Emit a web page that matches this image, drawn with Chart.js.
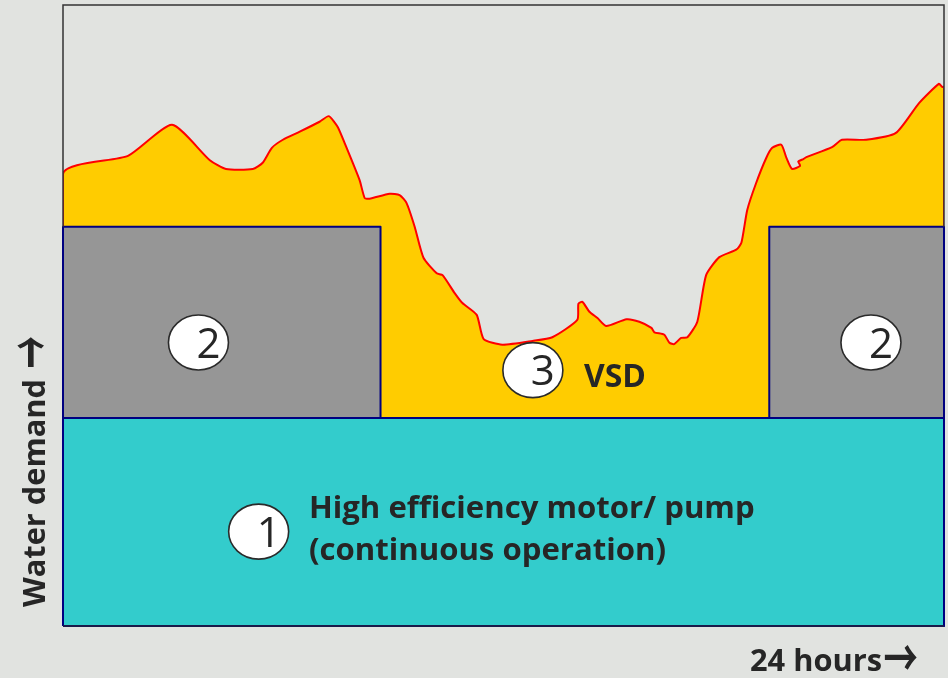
<!DOCTYPE html>
<html>
<head>
<meta charset="utf-8">
<script src="https://cdn.jsdelivr.net/npm/chart.js@4"></script>
<style>
  html, body { margin: 0; padding: 0; background: #e1e3e0; }
  canvas { display: block; }
</style>
</head>
<body>
<canvas id="c" width="948" height="678"></canvas>
<script>
// ---- data (hours 0..24, demand in arbitrary units 0..100) ----
const curveHours = [0, 0, 1.77, 2.97, 4.0, 4.44, 5.17, 5.44, 5.69, 5.99, 6.45, 6.99, 7.24, 7.48, 7.67, 8.08, 8.22, 8.35, 8.9, 9.17, 9.36, 9.58, 9.82, 10.18, 10.34, 10.67, 10.88, 11.27, 11.46, 11.97, 12.79, 13.33, 14.01, 14.04, 14.15, 14.34, 14.56, 14.8, 15.35, 15.7, 16.03, 16.11, 16.38, 16.52, 16.65, 16.84, 17.01, 17.28, 17.52, 17.88, 18.34, 18.48, 18.64, 18.88, 19.16, 19.32, 19.57, 19.7, 19.86, 20.08, 20.03, 20.17, 20.25, 20.95, 21.22, 21.88, 22.69, 23.32, 23.86, 23.95, 24, 24];
const curveDemand = [0, 72.8, 75.7, 80.7, 75.0, 73.6, 73.6, 74.6, 77.0, 78.3, 79.6, 81.2, 82.1, 80.4, 77.8, 71.8, 68.9, 68.8, 69.6, 69.4, 68.1, 64.3, 59.3, 56.8, 56.5, 53.6, 52.0, 50.1, 46.2, 45.3, 45.9, 46.5, 49.3, 51.9, 52.2, 50.6, 49.6, 48.3, 49.4, 49.0, 48.0, 47.3, 46.9, 45.6, 45.4, 46.4, 46.5, 49.0, 56.5, 59.4, 60.6, 61.7, 67.0, 71.3, 75.4, 77.0, 77.5, 75.5, 73.6, 74.1, 74.8, 75.2, 75.5, 77.1, 78.3, 78.3, 79.4, 84.2, 87.3, 86.8, 86.8, 0];
const baseLoadLevel = 33.5;          // 1: continuous high-efficiency pump
const stagedLevel = 64.3;            // 2: staged pumps
const stagedPeriods = [[0, 8.65], [19.24, 24]];   // hours when staged pumps run
const badgeLabels = ["1", "2", "2", "3"];
const mainLabelLines = ["High efficiency motor/ pump", "(continuous operation)"];
const vsdLabel = "VSD";
const yTitle = "Water demand";
const xTitle = "24 hours";
const arrowGlyph = "\u2192";

// ---- build datasets ----
const toPts = (xs, ys) => xs.map((x, i) => ({ x: x, y: ys[i] }));
const basePts = [{x:0,y:0},{x:0,y:baseLoadLevel},{x:24,y:baseLoadLevel},{x:24,y:0}];
const stagedSets = stagedPeriods.map(p => [{x:p[0],y:0},{x:p[0],y:stagedLevel},{x:p[1],y:stagedLevel},{x:p[1],y:0}]);

const NAVY = '#000080';
const TXT = '#262626';

const datasets = [
  { data: basePts, borderColor: NAVY, borderWidth: 2, backgroundColor: '#33cccc', fill: 'origin', clip: false },
  { data: stagedSets[0], borderColor: NAVY, borderWidth: 2, backgroundColor: '#969696', fill: 'origin', clip: false },
  { data: stagedSets[1], borderColor: NAVY, borderWidth: 2, backgroundColor: '#969696', fill: 'origin', clip: false },
  { data: toPts(curveHours, curveDemand), borderColor: '#ff0000', borderWidth: 2, backgroundColor: '#ffcc00', fill: 'origin', tension: 0.2 }
];

// annotation placements (in data units)
const badgeSpots = [ {x:5.33, y:15.2}, {x:3.69, y:45.65}, {x:22.01, y:45.65}, {x:12.8, y:41.2} ];
const mainLabelSpot = {x:6.70, y:17.4, y2:10.6};
const vsdSpot = {x:14.19, y:38.5};

function fitSize(ctx, text, weight, family, targetW) {
  ctx.font = weight + ' 100px ' + family;
  return 100 * targetW / ctx.measureText(text).width;
}

// draw the arrow glyph so its ink box fills (x0..x0+w, yBottom-h..yBottom)
function drawArrow(ctx, x0, yBottom, w, h) {
  ctx.save();
  ctx.font = '700 100px "Noto Sans CJK SC", "DejaVu Sans", sans-serif';
  const m = ctx.measureText(arrowGlyph);
  const inkW = m.actualBoundingBoxLeft + m.actualBoundingBoxRight;
  const inkH = m.actualBoundingBoxAscent + m.actualBoundingBoxDescent;
  const sx = w / inkW, sy = h / inkH;
  ctx.translate(x0, yBottom);
  ctx.scale(sx, sy);
  ctx.textAlign = 'left';
  ctx.textBaseline = 'alphabetic';
  ctx.fillText(arrowGlyph, m.actualBoundingBoxLeft, -m.actualBoundingBoxDescent);
  ctx.restore();
}

const decor = {
  id: 'decor',
  beforeDraw(chart) {
    const ctx = chart.ctx;
    ctx.save();
    ctx.fillStyle = '#e1e3e0';
    ctx.fillRect(0, 0, chart.width, chart.height);
    ctx.restore();
  },
  afterDatasetsDraw(chart) {
    const ctx = chart.ctx, xs = chart.scales.x, ys = chart.scales.y, a = chart.chartArea;
    ctx.save();
    // outer frame (top / right above the blocks)
    ctx.strokeStyle = '#333333';
    ctx.lineWidth = 1.5;
    ctx.beginPath();
    ctx.moveTo(a.left, ys.getPixelForValue(stagedLevel));
    ctx.lineTo(a.left, a.top);
    ctx.lineTo(a.right, a.top);
    ctx.lineTo(a.right, ys.getPixelForValue(stagedLevel));
    ctx.stroke();
    // bottom edge of base block
    ctx.strokeStyle = '#1a1a4a';
    ctx.lineWidth = 2;
    ctx.beginPath();
    ctx.moveTo(a.left, a.bottom);
    ctx.lineTo(a.right, a.bottom);
    ctx.stroke();

    const fam = '"Open Sans", "DejaVu Sans", sans-serif';
    // badges
    badgeSpots.forEach((s, i) => {
      const cx = xs.getPixelForValue(s.x), cy = ys.getPixelForValue(s.y);
      ctx.beginPath();
      ctx.ellipse(cx, cy, 30, 27.5, 0, 0, Math.PI * 2);
      ctx.fillStyle = '#ffffff';
      ctx.fill();
      ctx.lineWidth = 1.6;
      ctx.strokeStyle = '#2a2a2a';
      ctx.stroke();
      ctx.fillStyle = TXT;
      ctx.font = '400 42px ' + fam;
      ctx.textAlign = 'center';
      ctx.textBaseline = 'alphabetic';
      ctx.fillText(badgeLabels[i], cx + 10, cy + 15);
    });
    // main label
    ctx.fillStyle = TXT;
    ctx.textAlign = 'left';
    ctx.textBaseline = 'alphabetic';
    const s1 = fitSize(ctx, mainLabelLines[0], '700', fam, 446);
    ctx.font = '700 ' + s1 + 'px ' + fam;
    ctx.fillText(mainLabelLines[0], xs.getPixelForValue(mainLabelSpot.x), ys.getPixelForValue(mainLabelSpot.y));
    ctx.fillText(mainLabelLines[1], xs.getPixelForValue(mainLabelSpot.x), ys.getPixelForValue(mainLabelSpot.y2));
    // VSD
    const s2 = fitSize(ctx, vsdLabel, '700', fam, 62);
    ctx.font = '700 ' + s2 + 'px ' + fam;
    ctx.fillText(vsdLabel, xs.getPixelForValue(vsdSpot.x), ys.getPixelForValue(vsdSpot.y));
    // x title
    const s3 = fitSize(ctx, xTitle, '700', fam, 132);
    ctx.font = '700 ' + s3 + 'px ' + fam;
    ctx.fillText(xTitle, 750, 671);
    drawArrow(ctx, 885, 670, 32, 25);
    // y title (rotated)
    const s4 = fitSize(ctx, yTitle, '700', fam, 228);
    ctx.save();
    ctx.font = '700 ' + s4 + 'px ' + fam;
    ctx.translate(45, 607);
    ctx.rotate(-Math.PI / 2);
    ctx.fillText(yTitle, 0, 0);
    drawArrow(ctx, 240, -1, 30, 27);
    ctx.restore();
    ctx.restore();
  }
};

new Chart(document.getElementById('c'), {
  type: 'line',
  data: { datasets: datasets },
  options: {
    responsive: false,
    animation: false,
    devicePixelRatio: 1,
    layout: { padding: { left: 63, top: 5, right: 4, bottom: 52 } },
    elements: { point: { radius: 0, hoverRadius: 0 }, line: { tension: 0, borderJoinStyle: 'round' } },
    scales: {
      x: { type: 'linear', min: 0, max: 24, display: false },
      y: { type: 'linear', min: 0, max: 100, display: false }
    },
    plugins: { legend: { display: false }, tooltip: { enabled: false } }
  },
  plugins: [decor]
});
</script>
</body>
</html>
